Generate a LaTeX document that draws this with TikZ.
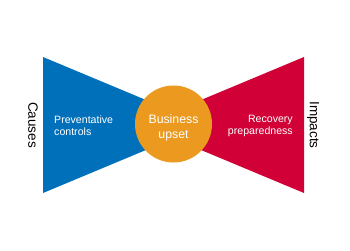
\documentclass[tikz,border=0pt]{standalone}
\usepackage{fontspec}
\setmainfont{Liberation Sans}
\definecolor{bowblue}{RGB}{0,112,186}
\definecolor{bowred}{RGB}{209,0,54}
\definecolor{boworange}{RGB}{236,153,32}
\begin{document}
\begin{tikzpicture}[x=1pt,y=1pt,
  wingtext/.style={text=white,font=\fontsize{10.6}{12}\selectfont,inner sep=0pt},
  sidetext/.style={text=black,font=\fontsize{13.5}{15}\selectfont,rotate=-90,inner sep=0pt}]
\useasboundingbox (0,0) rectangle (350,250);
\fill[bowblue] (43,193) -- (173.5,138.5) -- (173.5,111.5) -- (43,57) -- cycle;
\fill[bowred] (304,193) -- (173.5,138.5) -- (173.5,111.5) -- (304,57) -- cycle;
\node[circle,fill=boworange,minimum size=77pt,inner sep=0pt] (upset) at (173.5,126) {};
\node[text=white,font=\fontsize{12.3}{14.5}\selectfont,align=center,inner sep=0pt] (upsettext) at ([yshift=-4pt]upset.center) {Business\\upset};
\node[wingtext,align=left,anchor=west] (prev) at (54,124) {Preventative\\controls};
\node[wingtext,align=right,anchor=east] (rec) at (293,124) {Recovery\\preparedness};
\node[sidetext] (causes) at (33,125) {Causes};
\node[sidetext] (impacts) at (313,125) {Impacts};
\end{tikzpicture}
\end{document}
